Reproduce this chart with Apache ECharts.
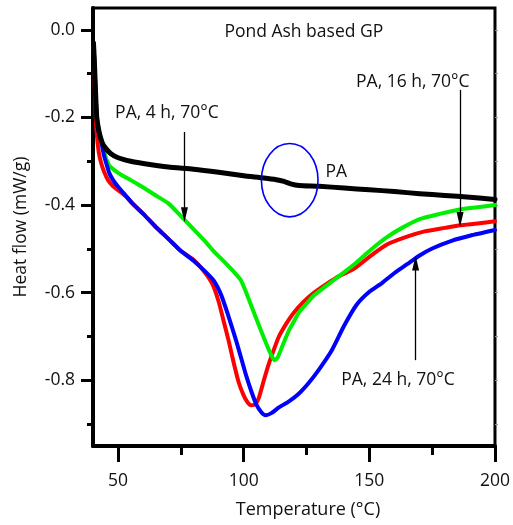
<!DOCTYPE html>
<html>
<head>
<meta charset="utf-8">
<script src="https://cdn.jsdelivr.net/npm/echarts@6/dist/echarts.min.js"></script>
<style>
html,body{margin:0;padding:0;background:#fff;}
#chart{width:513px;height:525px;}
</style>
</head>
<body>
<div id="chart"></div>
<script>
// ---- data (Temperature °C, Heat flow mW/g) ----
const paData = [
  [40.2,-0.03],[40.6,-0.08],[41.0,-0.14],[41.5,-0.20],[42.5,-0.235],[43.7,-0.258],[45,-0.27],
  [47,-0.282],[50,-0.292],[55,-0.300],[60,-0.305],[70,-0.313],[80,-0.318],[90,-0.325],
  [100,-0.333],[108,-0.338],[113,-0.342],[116,-0.346],[119,-0.352],[122,-0.355],[130,-0.357],
  [140,-0.361],[150,-0.365],[160,-0.369],[170,-0.374],[180,-0.378],[190,-0.382],[200,-0.387]
];
const pa4hData = [
  [40.2,-0.03],[40.6,-0.08],[41.0,-0.14],[41.5,-0.20],[42.3,-0.23],[43.3,-0.25],[44.3,-0.275],
  [45.3,-0.295],[46.5,-0.31],[48.5,-0.32],[51,-0.33],[55,-0.343],[60,-0.36],[65,-0.378],
  [70,-0.396],[75,-0.425],[80,-0.455],[85,-0.485],[88,-0.505],[92,-0.528],[96,-0.552],
  [98.8,-0.571],[101,-0.60],[104.7,-0.655],[108,-0.703],[110.5,-0.737],[112.2,-0.754],
  [113.5,-0.748],[115.5,-0.72],[118,-0.686],[120.5,-0.66],[122,-0.645],[125,-0.625],
  [128,-0.606],[132,-0.588],[135,-0.575],[140,-0.553],[144,-0.535],[148,-0.515],[152,-0.495],
  [157,-0.473],[163,-0.452],[170,-0.432],[178,-0.42],[186,-0.41],[193,-0.405],[200,-0.40]
];
const pa16hData = [
  [40.2,-0.03],[40.5,-0.08],[40.8,-0.15],[41.4,-0.23],[42.3,-0.28],[43.3,-0.305],[44.5,-0.325],
  [46,-0.343],[48,-0.357],[50,-0.366],[53,-0.38],[56,-0.398],[60,-0.42],[65,-0.45],[70,-0.477],
  [75,-0.505],[80,-0.525],[84,-0.55],[87.5,-0.58],[90,-0.62],[92,-0.665],[94,-0.71],[96,-0.76],
  [98,-0.805],[100,-0.835],[101.5,-0.85],[103,-0.857],[104.5,-0.855],[106,-0.84],[108,-0.80],
  [110,-0.762],[112,-0.73],[114,-0.70],[117,-0.67],[120,-0.645],[124,-0.62],[128,-0.60],
  [133,-0.58],[138,-0.562],[144,-0.545],[150,-0.518],[157,-0.49],[165,-0.472],[172,-0.46],
  [180,-0.452],[186,-0.446],[193,-0.442],[200,-0.437]
];
const pa24hData = [
  [40.2,-0.03],[40.6,-0.08],[41.0,-0.14],[41.5,-0.20],[42.3,-0.235],[43.3,-0.255],[44.3,-0.285],
  [45.3,-0.305],[46.5,-0.327],[48,-0.343],[50,-0.358],[53,-0.378],[56,-0.398],[60,-0.42],
  [65,-0.45],[70,-0.477],[75,-0.505],[80,-0.527],[84,-0.548],[88,-0.572],[91,-0.605],
  [94,-0.655],[97,-0.71],[99.5,-0.76],[101,-0.79],[103,-0.825],[105,-0.855],[107,-0.873],
  [108.7,-0.88],[111,-0.875],[114,-0.862],[118,-0.848],[122,-0.83],[126,-0.805],[130,-0.775],
  [135,-0.732],[140,-0.675],[145,-0.627],[150,-0.598],[155,-0.578],[160,-0.555],[165,-0.535],
  [170,-0.515],[175,-0.499],[183,-0.481],[190,-0.47],[200,-0.457]
];
const xMajorTicks = [50,100,150,200];
const xMinorTicks = [75,125,175];
const yMajorTicks = [0,-0.2,-0.4,-0.6,-0.8];
const yMinorTicks = [-0.1,-0.3,-0.5,-0.7,-0.9];

const FONT = '"Open Sans", "Liberation Sans", sans-serif';
const chart = echarts.init(document.getElementById('chart'));

function lineSeries(name, data, color, width) {
  return {
    name, type: 'line', data, xAxisIndex: 0, yAxisIndex: 0,
    showSymbol: false, symbol: 'none', smooth: 0.2,
    lineStyle: {color, width, cap: 'round', join: 'round'},
    itemStyle: {color}, animation: false, z: 3
  };
}

const arrowStyle = {color: '#000', width: 1.3, type: 'solid'};
function arrow(x, y1, y2) {
  return [{coord: [x, y1]}, {coord: [x, y2]}];
}

chart.setOption({
  animation: false,
  backgroundColor: '#fff',
  grid: {left: 93, right: 15, top: 8, bottom: 79, show: true, borderColor: '#000', borderWidth: 3, backgroundColor: 'transparent'},
  xAxis: [
    {type: 'value', min: 40, max: 200, position: 'bottom',
     axisLine: {show: true, onZero: false, lineStyle: {color: '#000', width: 4}},
     axisTick: {show: true, customValues: xMajorTicks, length: 16, inside: false, lineStyle: {color: '#000', width: 3}},
     axisLabel: {show: true, customValues: xMajorTicks, margin: 26, color: '#111', fontSize: 17.5, fontFamily: FONT},
     splitLine: {show: false},
     name: 'Temperature (°C)', nameLocation: 'middle', nameGap: 55,
     nameTextStyle: {fontSize: 18, fontFamily: FONT, color: '#111', padding: [0, 0, 0, 28]}},
    {type: 'value', min: 40, max: 200, position: 'bottom',
     axisLine: {show: false, onZero: false},
     axisTick: {show: true, customValues: xMinorTicks, length: 9, inside: false, lineStyle: {color: '#000', width: 3}},
     axisLabel: {show: false}, splitLine: {show: false}}
  ],
  yAxis: [
    {type: 'value', min: -0.95, max: 0.05, position: 'left',
     axisLine: {show: true, onZero: false, lineStyle: {color: '#000', width: 4}},
     axisTick: {show: true, customValues: yMajorTicks, length: 12, inside: false, lineStyle: {color: '#000', width: 3}},
     axisLabel: {show: true, customValues: yMajorTicks, margin: 18, color: '#111', fontSize: 17.5, fontFamily: FONT,
                 formatter: v => (Math.abs(v) < 1e-9 ? 0 : v).toFixed(1)},
     splitLine: {show: false},
     name: 'Heat flow (mW/g)', nameLocation: 'middle', nameGap: 63,
     nameTextStyle: {fontSize: 17.5, fontFamily: FONT, color: '#111'}},
    {type: 'value', min: -0.95, max: 0.05, position: 'left',
     axisLine: {show: false, onZero: false},
     axisTick: {show: true, customValues: yMinorTicks, length: 6, inside: false, lineStyle: {color: '#000', width: 3}},
     axisLabel: {show: false}, splitLine: {show: false}},
    {type: 'value', min: -0.95, max: 0.05, position: 'right',
     axisLine: {show: false, onZero: false},
     axisTick: {show: true, customValues: yMajorTicks.concat(yMinorTicks), length: 3, inside: false, lineStyle: {color: '#999', width: 1}},
     axisLabel: {show: false}, splitLine: {show: false}}
  ],
  series: [
    lineSeries('PA, 16 h, 70°C', pa16hData, '#ff0000', 4),
    lineSeries('PA, 4 h, 70°C', pa4hData, '#00ee00', 4),
    lineSeries('PA, 24 h, 70°C', pa24hData, '#0000ff', 4),
    Object.assign(lineSeries('PA', paData, '#000000', 5), {
      markLine: {
        silent: true, animation: false,
        symbol: ['none', 'triangle'], symbolSize: [7, 15],
        label: {show: false},
        lineStyle: arrowStyle,
        data: [
          arrow(76.4, -0.233, -0.422),
          arrow(186.1, -0.137, -0.433),
          arrow(168.4, -0.754, -0.532)
        ]
      }
    })
  ]
});

function px(x, y) { return chart.convertToPixel({xAxisIndex: 0, yAxisIndex: 0}, [x, y]); }
const textStyle = {fontSize: 17.5, fontFamily: FONT, fill: '#111'};
function label(text, x, y, align) {
  const p = px(x, y);
  return {type: 'text', x: p[0], y: p[1], z: 10,
          style: Object.assign({text, align: align || 'left', verticalAlign: 'middle'}, textStyle)};
}
const ec = px(118.3, -0.343);
chart.setOption({
  graphic: [
    label('Pond Ash based GP', 123.9, -0.005, 'center'),
    label('PA, 4 h, 70°C', 48.8, -0.19),
    label('PA, 16 h, 70°C', 144.7, -0.119),
    label('PA', 132.5, -0.325),
    label('PA, 24 h, 70°C', 138.8, -0.80),
    {type: 'ellipse', z: 10, shape: {cx: ec[0], cy: ec[1], rx: 28.3, ry: 36.7},
     style: {fill: 'none', stroke: '#0000ff', lineWidth: 1.6}}
  ]
});
</script>
</body>
</html>
